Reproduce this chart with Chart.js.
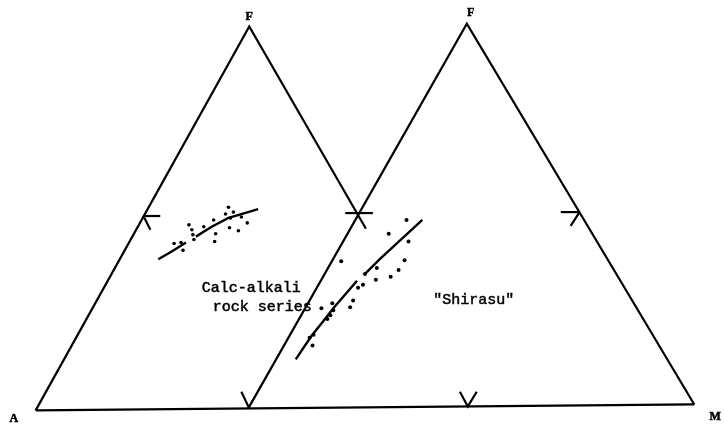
<!DOCTYPE html>
<html lang="en">
<head>
    <meta charset="UTF-8">
    <title>AFM diagram - Calc-alkali rock series / Shirasu</title>
    <script src="https://cdn.jsdelivr.net/npm/chart.js"></script>
    <style>
        body { margin: 0; background: #fff; }
        #wrap { width: 724px; height: 433px; }
    </style>
</head>
<body>
<div id="wrap"><canvas id="afmChart" width="724" height="433"></canvas></div>

<script>
    // figure units = same scale as the scanned page (x right, y down)
    const leftTriangle = [[32, 414], [248, 23], [366, 229]];
    const rightTriangle = [[247, 412], [468, 20], [698, 408]];
    const baseLine = [[32, 414], [698, 408]];
    const tickMarks = [
        [[141, 216], [158, 216]], [[141, 216], [148, 230]],
        [[345, 213], [373, 213]],
        [[563, 212], [582, 212]], [[582, 212], [573, 226]],
        [[240, 395], [248, 412]],
        [[461, 395], [469, 410], [478, 395]]
    ];

    // calc-alkali trend (left triangle)
    const calcTrend = [
        [[156, 260], [170, 252], [184, 243]],
        [[194, 237], [210, 227], [227, 218], [240, 214], [257, 209]]
    ];
    const calcPoints = [
        [227, 207], [232, 212], [224, 214], [229, 218], [240, 217], [246, 223],
        [237, 231], [228, 228], [212, 220], [214, 234], [213, 242], [202, 227],
        [187, 225], [190, 230], [191, 235], [192, 240], [179, 243], [172, 244],
        [181, 251]
    ];

    // Shirasu trend (right triangle)
    const shirasuTrend = [
        [[295, 362], [311, 338], [323, 323], [333, 310], [357, 282]],
        [[365, 275], [380, 260], [423, 220]]
    ];
    const shirasuPoints = [
        [407, 220], [389, 234], [409, 242], [341, 262], [405, 261], [377, 269],
        [399, 271], [365, 275], [391, 278], [376, 281], [363, 286], [358, 289],
        [353, 302], [350, 309], [332, 305], [321, 310], [333, 312], [330, 317],
        [327, 321], [313, 337], [309, 340], [312, 348]
    ];

    const labels = [
        { text: 'F', x: 248, y: 13, font: 'bold 12px "Liberation Serif"' },
        { text: 'F', x: 472, y: 9, font: 'bold 12px "Liberation Serif"' },
        { text: 'A', x: 10, y: 423, font: 'bold 12px "Liberation Serif"' },
        { text: 'M', x: 719, y: 421, font: 'bold 12px "Liberation Serif"' },
        { text: 'Calc-alkali', x: 200, y: 289, font: '15px "Liberation Mono"', align: 'left' },
        { text: 'rock series', x: 211, y: 309, font: '15px "Liberation Mono"', align: 'left' },
        { text: '"Shirasu"', x: 434, y: 302, font: '15px "Liberation Mono"', align: 'left' }
    ];

    const toXY = pts => pts.map(p => ({ x: p[0], y: p[1] }));

    function lineSet(pts, width) {
        return {
            data: toXY(pts),
            showLine: true,
            borderColor: '#000',
            borderWidth: width,
            pointRadius: 0,
            fill: false
        };
    }

    const datasets = [];
    datasets.push(lineSet(leftTriangle, 2.2));
    datasets.push(lineSet(rightTriangle, 2.2));
    datasets.push(lineSet(baseLine, 2.2));
    tickMarks.forEach(t => datasets.push(lineSet(t, 2.2)));
    calcTrend.forEach(t => datasets.push(lineSet(t, 2.4)));
    shirasuTrend.forEach(t => datasets.push(lineSet(t, 2.4)));
    datasets.push({
        data: toXY(calcPoints),
        showLine: false,
        pointRadius: 1.8,
        pointBackgroundColor: '#000',
        pointBorderWidth: 0
    });
    datasets.push({
        data: toXY(shirasuPoints),
        showLine: false,
        pointRadius: 2,
        pointBackgroundColor: '#000',
        pointBorderWidth: 0
    });

    // text written in figure units too, placed through the scales
    const textPlugin = {
        id: 'figureText',
        afterDraw(chart) {
            const ctx = chart.ctx;
            const xs = chart.scales.x, ys = chart.scales.y;
            ctx.save();
            ctx.fillStyle = '#000';
            ctx.strokeStyle = '#000';
            ctx.lineWidth = 0.5;
            ctx.textBaseline = 'middle';
            labels.forEach(l => {
                ctx.font = l.font;
                ctx.textAlign = l.align || 'center';
                const px = xs.getPixelForValue(l.x), py = ys.getPixelForValue(l.y);
                ctx.fillText(l.text, px, py);
                ctx.strokeText(l.text, px, py);
            });
            ctx.restore();
        }
    };

    new Chart(document.getElementById('afmChart'), {
        type: 'scatter',
        data: { datasets: datasets },
        options: {
            responsive: false,
            animation: false,
            layout: { padding: 0 },
            plugins: { legend: { display: false }, tooltip: { enabled: false } },
            scales: {
                x: { type: 'linear', min: 0, max: 724, display: false },
                y: { type: 'linear', min: 0, max: 433, reverse: true, display: false }
            }
        },
        plugins: [textPlugin]
    });
</script>
</body>
</html>
